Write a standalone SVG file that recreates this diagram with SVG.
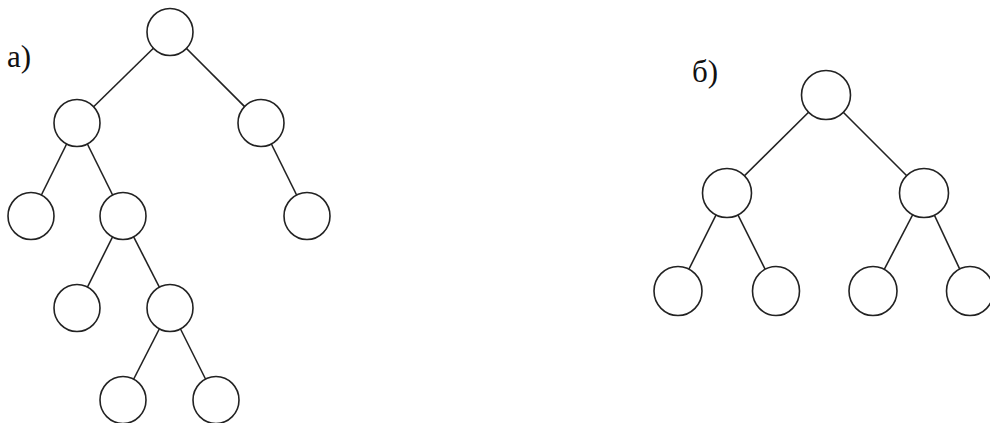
<svg xmlns="http://www.w3.org/2000/svg" width="990" height="423" viewBox="0 0 990 423">
<style>
.n{fill:#fff;stroke:#222;stroke-width:1.6}
.e{stroke:#222;stroke-width:1.6;fill:none}
.l{font-family:"Liberation Serif",serif;font-size:31px;fill:#111}
</style>
<rect width="990" height="423" fill="#fff"/>
<text class="l" x="7" y="67">a)</text>
<text class="l" x="692" y="82">б)</text>
<g id="connectors">
<line class="e" x1="170" y1="32" x2="77" y2="123"/>
<line class="e" x1="170" y1="32" x2="261" y2="123"/>
<line class="e" x1="77" y1="123" x2="31" y2="216"/>
<line class="e" x1="77" y1="123" x2="123" y2="216"/>
<line class="e" x1="261" y1="123" x2="307" y2="216"/>
<line class="e" x1="123" y1="216" x2="77" y2="308"/>
<line class="e" x1="123" y1="216" x2="170" y2="308"/>
<line class="e" x1="170" y1="308" x2="123" y2="400"/>
<line class="e" x1="170" y1="308" x2="216" y2="400"/>
<line class="e" x1="826" y1="95" x2="727" y2="193"/>
<line class="e" x1="826" y1="95" x2="924" y2="193"/>
<line class="e" x1="727" y1="193" x2="678" y2="291"/>
<line class="e" x1="727" y1="193" x2="776" y2="291"/>
<line class="e" x1="924" y1="193" x2="873" y2="291"/>
<line class="e" x1="924" y1="193" x2="970" y2="291"/>
</g>
<g id="a-root"><ellipse class="n" cx="170" cy="32" rx="23" ry="23.5"/></g>
<g id="a-l"><ellipse class="n" cx="77" cy="123" rx="23" ry="23.5"/></g>
<g id="a-r"><ellipse class="n" cx="261" cy="123" rx="23" ry="23.5"/></g>
<g id="a-ll"><ellipse class="n" cx="31" cy="216" rx="23" ry="23.5"/></g>
<g id="a-lr"><ellipse class="n" cx="123" cy="216" rx="23" ry="23.5"/></g>
<g id="a-rr"><ellipse class="n" cx="307" cy="216" rx="23" ry="23.5"/></g>
<g id="a-lrl"><ellipse class="n" cx="77" cy="308" rx="23" ry="23.5"/></g>
<g id="a-lrr"><ellipse class="n" cx="170" cy="308" rx="23" ry="23.5"/></g>
<g id="a-lrrl"><ellipse class="n" cx="123" cy="400" rx="23" ry="23.5"/></g>
<g id="a-lrrr"><ellipse class="n" cx="216" cy="400" rx="23" ry="23.5"/></g>
<g id="b-root"><ellipse class="n" cx="826" cy="95" rx="24.5" ry="24.5"/></g>
<g id="b-l"><ellipse class="n" cx="727" cy="193" rx="24.5" ry="24.5"/></g>
<g id="b-r"><ellipse class="n" cx="924" cy="193" rx="24.5" ry="24.5"/></g>
<g id="b-ll"><ellipse class="n" cx="678" cy="291" rx="24" ry="24.5"/></g>
<g id="b-lr"><ellipse class="n" cx="776" cy="291" rx="23.5" ry="24.5"/></g>
<g id="b-rl"><ellipse class="n" cx="873" cy="291" rx="24" ry="24.5"/></g>
<g id="b-rr"><ellipse class="n" cx="970" cy="291" rx="23.5" ry="24.5"/></g>
</svg>
